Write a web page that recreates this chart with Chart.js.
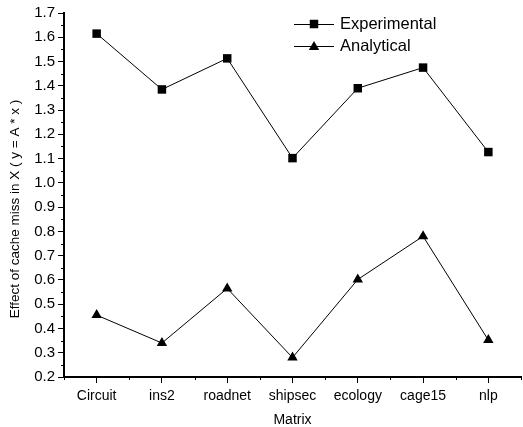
<!DOCTYPE html>
<html>
<head>
<meta charset="utf-8">
<script src="https://cdn.jsdelivr.net/npm/chart.js@4"></script>
<style>
  html, body { margin: 0; padding: 0; background: #fff; overflow: hidden; }
  #wrap { width: 527px; height: 427px; }
</style>
</head>
<body>
<div id="wrap"><canvas id="chart" width="527" height="427"></canvas></div>
<script>
// data
const categories = ['Circuit', 'ins2', 'roadnet', 'shipsec', 'ecology', 'cage15', 'nlp'];
const experimental = [1.615, 1.385, 1.513, 1.102, 1.390, 1.475, 1.127];
const analytical = [0.455, 0.340, 0.565, 0.280, 0.602, 0.780, 0.352];
const yTicksMin = 0.2;
const yTicksMax = 1.7;
const yStep = 0.1;

const FONT = 'Liberation Sans, Arial, Helvetica, sans-serif';

// minor ticks, legend with line+marker, rotated y title
const extras = {
    id: 'extras',
    afterDraw(chart) {
        const { ctx, scales: { x, y } } = chart;
        ctx.save();
        ctx.strokeStyle = '#000';
        ctx.lineWidth = 1;

        // y minor ticks
        const left = x.left;
        for (let i = 0; i < 15; i++) {
            const py = Math.round(y.getPixelForValue(yTicksMin + yStep / 2 + i * yStep)) + 0.5;
            ctx.beginPath();
            ctx.moveTo(left - 3, py);
            ctx.lineTo(left, py);
            ctx.stroke();
        }
        // x minor ticks
        const bottom = y.bottom;
        for (let i = -1; i < categories.length; i++) {
            const px = Math.round(x.getPixelForValue(i + 0.5)) + 0.5;
            ctx.beginPath();
            ctx.moveTo(px, bottom);
            ctx.lineTo(px, bottom + 3);
            ctx.stroke();
        }

        // legend
        ctx.font = '16.5px ' + FONT;
        ctx.textBaseline = 'middle';
        ctx.textAlign = 'left';
        chart.data.datasets.forEach((ds, i) => {
            const ry = 24 + i * 22;
            ctx.strokeStyle = '#000';
            ctx.lineWidth = 1;
            ctx.beginPath();
            ctx.moveTo(294, ry + 0.5);
            ctx.lineTo(334, ry + 0.5);
            ctx.stroke();
            ctx.fillStyle = '#000';
            Chart.helpers.drawPoint(ctx, { pointStyle: ds.pointStyle, radius: 6, rotation: 0, borderWidth: 0 }, 314, ry + (ds.pointStyle === 'triangle' ? 1 : 0));
            ctx.fillStyle = '#000';
            ctx.fillText(ds.label, 340, ry);
        });

        // y axis title
        ctx.translate(15, 209);
        ctx.rotate(-Math.PI / 2);
        ctx.textAlign = 'center';
        ctx.font = '13.5px ' + FONT;
        ctx.fillText('Effect of cache miss in X ( y = A * x )', 0, 0);
        ctx.restore();
    }
};

const ctx = document.getElementById('chart').getContext('2d');
const chart = new Chart(ctx, {
    type: 'line',
    data: {
        labels: categories,
        datasets: [{
            label: 'Experimental',
            data: experimental,
            borderColor: '#000',
            borderWidth: 1,
            pointStyle: 'rect',
            pointRadius: 6,
            pointBackgroundColor: '#000',
            pointBorderColor: '#000',
            pointBorderWidth: 0,
            tension: 0
        }, {
            label: 'Analytical',
            data: analytical,
            borderColor: '#000',
            borderWidth: 1,
            pointStyle: 'triangle',
            pointRadius: 6,
            pointBackgroundColor: '#000',
            pointBorderColor: '#000',
            pointBorderWidth: 0,
            tension: 0
        }]
    },
    options: {
        responsive: false,
        animation: false,
        events: [],
        layout: { padding: { top: 13, right: 0, bottom: 0, left: 0 } },
        plugins: {
            legend: { display: false },
            tooltip: { enabled: false }
        },
        scales: {
            x: {
                type: 'category',
                offset: true,
                grid: {
                    display: true,
                    drawOnChartArea: false,
                    drawTicks: true,
                    tickLength: 6,
                    color: '#000',
                    lineWidth: 1
                },
                border: { display: true, color: '#000', width: 2 },
                ticks: {
                    color: '#000',
                    font: { family: FONT, size: 14 },
                    padding: 5,
                    maxRotation: 0,
                    autoSkip: false
                },
                title: {
                    display: true,
                    text: 'Matrix',
                    color: '#000',
                    font: { family: FONT, size: 14, lineHeight: 1 },
                    padding: 0
                },
                afterFit(s) { s.height = 50; }
            },
            y: {
                type: 'linear',
                min: yTicksMin,
                max: yTicksMax,
                grid: {
                    display: true,
                    drawOnChartArea: false,
                    drawTicks: true,
                    tickLength: 6,
                    color: '#000',
                    lineWidth: 1
                },
                border: { display: true, color: '#000', width: 2 },
                ticks: {
                    stepSize: yStep,
                    color: '#000',
                    font: { family: FONT, size: 15 },
                    padding: 3,
                    callback: v => Number(v).toFixed(1)
                },
                afterFit(s) { s.width = 64; }
            }
        }
    },
    plugins: [extras]
});
</script>
</body>
</html>
